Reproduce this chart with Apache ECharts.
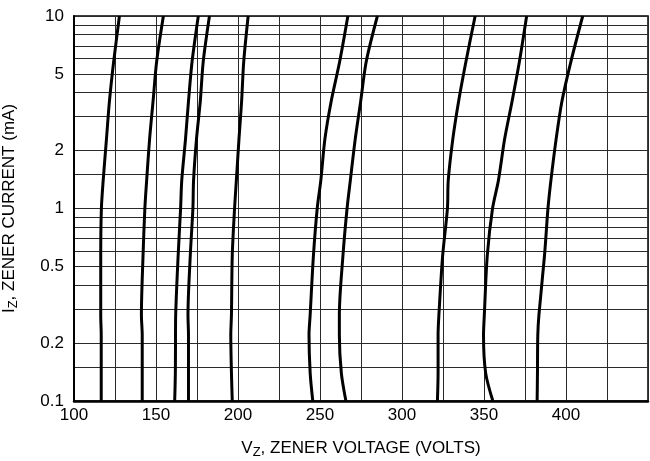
<!DOCTYPE html>
<html>
<head>
<meta charset="utf-8">
<script src="https://cdn.jsdelivr.net/npm/echarts@6/dist/echarts.min.js"></script>
<style>
  html, body { margin: 0; padding: 0; background: #fff; }
  #chart { width: 650px; height: 461px; }
</style>
</head>
<body>
<div id="chart"></div>
<script>
// zener current levels (mA) at which each curve was read
const currents = [0.1, 0.14, 0.22, 0.28, 0.57, 1, 1.4, 2.3, 3.6, 5.8, 10];

// zener voltage (V) for each curve, at the current levels above
const curve1 = [116.6, 116.6, 116.6, 116.3, 116.3, 116.7, 117.8, 119.8, 121.6, 124.2, 127.7];
const curve2 = [141.6, 141.6, 141.6, 141.1, 142.1, 143.2, 144.3, 146.1, 148.2, 150.4, 154.5];
const curve3 = [161.4, 161.8, 161.9, 162.0, 163.5, 165.0, 165.7, 168.0, 169.8, 172.0, 175.8];
const curve4 = [169.8, 169.8, 169.8, 169.5, 170.9, 172.5, 172.9, 174.7, 177.0, 178.8, 182.6];
const curve5 = [196.5, 196.0, 195.6, 196.0, 196.5, 197.9, 199.0, 200.6, 202.2, 203.5, 206.2];
const curve6 = [245.6, 244.0, 243.3, 244.0, 246.0, 248.3, 250.5, 253.0, 256.8, 262.0, 267.0];
const curve7 = [265.8, 263.0, 261.8, 261.8, 264.0, 266.5, 268.5, 271.5, 274.8, 278.2, 285.0];
const curve8 = [321.6, 322.0, 322.0, 322.5, 324.8, 327.7, 328.2, 331.0, 334.5, 339.0, 344.6];
const curve9 = [355.4, 351.0, 349.7, 350.2, 352.0, 355.2, 358.8, 362.6, 367.1, 371.6, 376.0];
const curve10 = [382.4, 382.6, 382.8, 383.5, 386.9, 389.0, 390.8, 394.0, 397.5, 403.0, 410.2];

const curves = [curve1, curve2, curve3, curve4, curve5, curve6, curve7, curve8, curve9, curve10];

// grid lines and tick labels of the log current axis
const currentGrid = [0.1, 0.15, 0.2, 0.3, 0.4, 0.5, 0.6, 0.7, 0.8, 0.9, 1, 1.5, 2, 3, 4, 5, 6, 7, 8, 9, 10];
const currentLabels = [0.1, 0.2, 0.5, 1, 2, 5, 10];

// voltage axis labels (grid every 25 V)
const voltageLabels = [100, 150, 200, 250, 300, 350, 400];

const chart = echarts.init(document.getElementById('chart'));

const font = 'Liberation Sans, Arial, sans-serif';

chart.setOption({
  backgroundColor: '#fff',
  animation: false,
  grid: {
    left: 74,
    right: 2,
    top: 16,
    bottom: 60,
    outerBoundsMode: 'none',
    containLabel: false,
    show: true,
    borderColor: '#000',
    borderWidth: 1.5
  },
  xAxis: {
    type: 'value',
    min: 100,
    max: 450,
    interval: 25,
    name: '{m|V}{s|Z}{m|, ZENER VOLTAGE (VOLTS)}',
    nameLocation: 'middle',
    nameGap: 36,
    nameTextStyle: {
      rich: {
        m: { fontSize: 17, fontFamily: font, color: '#000' },
        s: { fontSize: 13, fontFamily: font, color: '#000', padding: [9, 0, 0, 0] }
      }
    },
    axisLine: { lineStyle: { color: '#000', width: 2.5 } },
    axisTick: { show: false },
    axisLabel: {
      color: '#000',
      fontSize: 17,
      fontFamily: font,
      margin: 6,
      formatter: v => voltageLabels.includes(v) ? String(v) : ''
    },
    splitLine: { show: true, lineStyle: { color: '#2a2a2a', width: 1 } }
  },
  yAxis: {
    type: 'log',
    logBase: 10,
    min: 0.1,
    max: 10,
    name: '{m|I}{s|Z}{m|, ZENER CURRENT (mA)}',
    nameLocation: 'middle',
    nameGap: 54,
    nameTextStyle: {
      rich: {
        m: { fontSize: 17, fontFamily: font, color: '#000' },
        s: { fontSize: 13, fontFamily: font, color: '#000', padding: [9, 0, 0, 0] }
      }
    },
    axisLine: { lineStyle: { color: '#000', width: 2 } },
    axisTick: { show: false, customValues: currentGrid },
    axisLabel: {
      color: '#000',
      fontSize: 17,
      fontFamily: font,
      margin: 10,
      customValues: currentLabels,
      formatter: v => String(+v.toPrecision(3))
    },
    splitLine: { show: true, lineStyle: { color: '#2a2a2a', width: 1 } }
  },
  series: curves.map(volts => ({
    type: 'line',
    smooth: 0.3,
    showSymbol: false,
    lineStyle: { color: '#000', width: 3 },
    data: volts.map((v, i) => [v, currents[i]])
  }))
});
</script>
</body>
</html>
